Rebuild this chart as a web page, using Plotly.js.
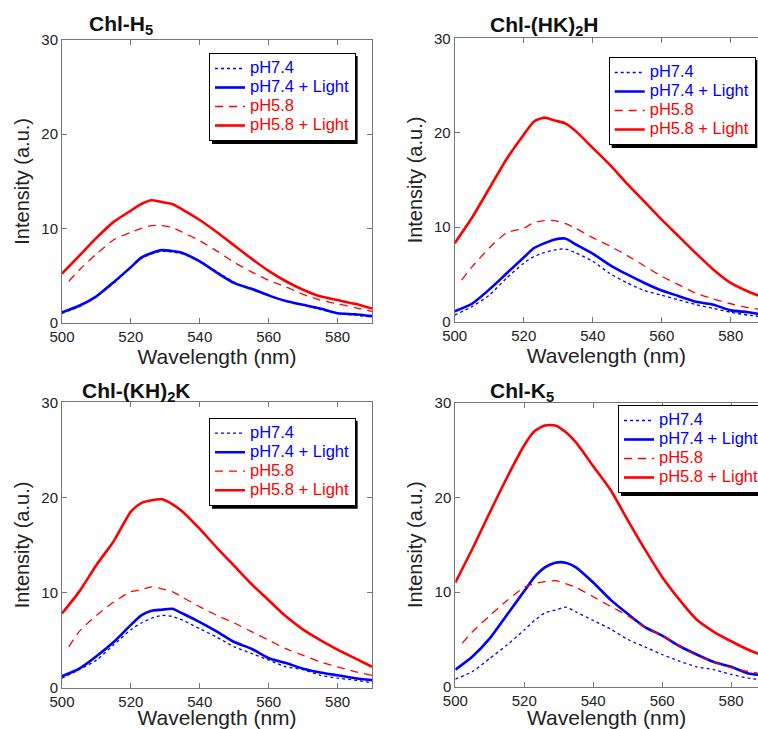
<!DOCTYPE html>
<html><head><meta charset="utf-8">
<script src="https://cdn.plot.ly/plotly-3.0.1.min.js"></script>
<style>html,body{margin:0;padding:0;background:#fff;overflow:hidden}</style>
</head><body><div id="chart" style="width:758px;height:729px"></div>
<script>
// wavelength grids (nm)
const wl     = [500,505,510,515,520,523,526,529,532,535,540,545,550,555,560,565,570,575,580,585,590];
const wlDash = [502,505,510,515,520,523,526,529,532,535,540,545,550,555,560,565,570,575,580,585,590];

const seriesNames = ['pH7.4', 'pH7.4 + Light', 'pH5.8', 'pH5.8 + Light'];
const panelTitles = ['Chl-H<sub>5</sub>', 'Chl-(HK)<sub>2</sub>H', 'Chl-(KH)<sub>2</sub>K', 'Chl-K<sub>5</sub>'];
const xTickVals = [500, 520, 540, 560, 580];
const yTickVals = [0, 10, 20, 30];

// Chl-H5
const h5_pH74   = [1.0,1.7,2.8,4.2,5.9,6.8,7.3,7.6,7.5,7.3,6.5,5.4,4.3,3.6,2.9,2.3,1.9,1.4,1.0,0.8,0.6];
const h5_pH74L  = [1.1,1.8,2.8,4.3,5.9,6.9,7.4,7.7,7.6,7.4,6.5,5.3,4.2,3.6,2.9,2.3,1.9,1.5,1.0,0.9,0.7];
const h5_pH58   = [4.4,5.6,7.3,8.8,9.6,10.0,10.3,10.3,10.1,9.6,8.7,7.6,6.4,5.4,4.5,3.8,3.0,2.4,2.0,1.6,1.2];
const h5_pH58L  = [5.2,7.1,9.0,10.7,11.9,12.6,13.0,12.8,12.6,12.0,10.9,9.6,8.2,6.8,5.5,4.4,3.5,2.8,2.4,2.0,1.5];
// Chl-(HK)2H
const hk_pH74   = [0.7,1.6,2.8,4.6,6.2,6.9,7.3,7.6,7.7,7.3,6.4,5.1,4.1,3.3,2.8,2.3,1.8,1.4,1.0,0.7,0.5];
const hk_pH74L  = [1.1,1.9,3.4,5.1,6.8,7.8,8.3,8.7,8.8,8.2,7.2,6.0,5.0,4.1,3.3,2.7,2.1,1.8,1.2,1.0,0.7];
const hk_pH58   = [4.4,5.8,7.8,9.4,9.9,10.5,10.7,10.7,10.4,9.9,8.9,8.0,7.0,5.9,4.8,3.9,3.0,2.4,1.9,1.5,1.2];
const hk_pH58L  = [8.3,11.0,14.1,17.2,19.8,21.2,21.6,21.3,21.0,20.2,18.4,16.6,14.6,12.7,10.8,9.0,7.2,5.5,4.1,3.2,2.5];
// Chl-(KH)2K
const kh_pH74   = [1.0,1.9,2.9,4.5,6.1,6.8,7.3,7.6,7.5,7.1,6.2,5.3,4.3,3.6,2.9,2.2,1.9,1.3,1.0,0.8,0.5];
const kh_pH74L  = [1.2,2.0,3.3,4.8,6.6,7.6,8.1,8.2,8.3,7.8,6.9,5.9,4.8,4.1,3.1,2.6,2.0,1.6,1.3,1.0,0.8];
const kh_pH58   = [4.3,5.9,7.6,9.0,10.1,10.3,10.6,10.4,10.1,9.5,8.5,7.6,6.8,5.9,5.0,4.1,3.4,2.7,2.2,1.7,1.3];
const kh_pH58L  = [7.8,10.1,12.9,15.4,18.5,19.4,19.7,19.8,19.3,18.5,16.7,14.7,12.8,10.9,9.2,7.5,6.1,5.0,4.0,3.1,2.2];
// Chl-K5
const k5_pH74   = [0.8,1.6,3.0,4.4,6.0,7.0,7.8,8.1,8.4,7.9,7.0,6.1,5.0,4.2,3.4,2.7,2.1,1.8,1.3,0.9,0.7];
const k5_pH74L  = [1.8,3.2,5.1,7.6,10.1,11.6,12.6,13.1,13.1,12.6,11.0,9.2,7.7,6.3,5.4,4.3,3.4,2.6,2.1,1.4,1.2];
const k5_pH58   = [4.6,5.8,7.5,9.1,10.5,10.9,11.1,11.2,10.9,10.5,9.5,8.5,7.5,6.3,5.4,4.3,3.3,2.6,2.0,1.6,1.3];
const k5_pH58L  = [11.0,14.6,18.4,22.1,25.5,27.0,27.6,27.6,26.9,25.8,23.3,20.8,17.6,14.5,11.6,9.2,7.1,5.8,4.8,3.9,3.2];

const panels = [
  [h5_pH74, h5_pH74L, h5_pH58, h5_pH58L],
  [hk_pH74, hk_pH74L, hk_pH58, hk_pH58L],
  [kh_pH74, kh_pH74L, kh_pH58, kh_pH58L],
  [k5_pH74, k5_pH74L, k5_pH58, k5_pH58L]
];

const BLUE = '#0000ff', RED = '#ff0000';
const styles = [
  {color: BLUE, width: 1.3, dash: '3px,3px', xs: wl},
  {color: BLUE, width: 2.6, dash: 'solid', xs: wl},
  {color: RED,  width: 1.3, dash: '8px,6px', xs: wlDash},
  {color: RED,  width: 2.6, dash: 'solid', xs: wl}
];

const W = 758, H = 729;
const FONT = 'Liberation Sans, Arial, Helvetica, sans-serif';
const LEG_TEXT_PX = 16.5, LEG_FONT_PX = 12;
// pixel geometry of each panel: [left, right, top, bottom, xmax]
const geo = [
  [62, 372, 40, 322.7, 590],
  [454.7, 758, 38.3, 321.7, 587.9],
  [62, 372, 402.3, 687.7, 590],
  [455.3, 758, 402.7, 686.7, 587.8]
];
const legendPos = [[209, 53], [608.7, 57], [209, 417.7], [618, 405]];
const titlePos = [[87, 25], [488, 26], [80, 391.7], [488, 391.7]];

// legend box size (mirrors Plotly's vertical legend sizing) for the drop shadow
function measure(str, px) {
  let w = 0;
  try {
    const c = document.createElement('canvas').getContext('2d');
    c.font = px + 'px "Liberation Sans", Arial, sans-serif';
    w = c.measureText(str).width;
  } catch (e) { w = 0; }
  return w > 0 ? w : 5.976 * px;
}
const maxTextW = Math.max(...seriesNames.map(n => measure(n, LEG_TEXT_PX)));
const legW = maxTextW + 5 + 40 + 2;
const legH = seriesNames.length * (Math.max(LEG_FONT_PX * 1.3, 16) + 3) + 12;

const traces = [];
const layout = {
  width: W, height: H,
  margin: {l: 0, r: 0, t: 0, b: 0, autoexpand: false},
  paper_bgcolor: '#fff', plot_bgcolor: '#fff',
  font: {family: FONT, color: '#222'},
  showlegend: true,
  annotations: [],
  shapes: []
};

panels.forEach((series, p) => {
  const sfx = p === 0 ? '' : String(p + 1);
  const legId = 'legend' + sfx;
  series.forEach((ys, s) => {
    const st = styles[s];
    traces.push({
      type: 'scatter', mode: 'lines',
      x: st.xs, y: ys,
      xaxis: 'x' + sfx, yaxis: 'y' + sfx,
      legend: legId,
      name: '<span style="color:' + st.color + ';font-size:' + LEG_TEXT_PX + 'px">' + seriesNames[s] + '</span>',
      line: {color: st.color, width: st.width, dash: st.dash, shape: 'spline', smoothing: 0.6},
      hoverinfo: 'skip'
    });
  });
  const g = geo[p];
  const right = p % 2 === 1;
  layout['xaxis' + sfx] = {
    domain: [g[0] / W, g[1] / W], range: [500, g[4]], anchor: 'y' + sfx,
    tickvals: xTickVals, ticks: 'inside', ticklen: 5, tickcolor: '#777',
    showline: true, linecolor: '#777', linewidth: 1, mirror: 'ticks',
    showgrid: false, zeroline: false, automargin: false,
    tickfont: {size: 15, color: '#222', family: FONT},
    title: {text: 'Wavelength (nm)', font: {size: 21, color: '#222', family: FONT}, standoff: 0}
  };
  layout['yaxis' + sfx] = {
    domain: [1 - g[3] / H, 1 - g[2] / H], range: [0, 30], anchor: 'x' + sfx,
    tickvals: yTickVals, ticks: 'inside', ticklen: 5, tickcolor: '#777',
    showline: true, linecolor: '#777', linewidth: 1, mirror: right ? false : 'ticks',
    showgrid: false, zeroline: false, automargin: false,
    tickfont: {size: 15, color: '#222', family: FONT},
    title: {text: 'Intensity (a.u.)', font: {size: 20, color: '#222', family: FONT}, standoff: 6}
  };
  const lp = legendPos[p];
  layout[legId] = {
    x: lp[0] / W, y: 1 - lp[1] / H, xanchor: 'left', yanchor: 'top',
    xref: 'paper', yref: 'paper',
    bgcolor: '#fff', bordercolor: '#000', borderwidth: 1,
    font: {size: LEG_FONT_PX, family: FONT}, tracegroupgap: 0, itemclick: false, itemdoubleclick: false
  };
  // drop shadow behind the legend box
  const sx0 = lp[0] + 3, sx1 = lp[0] + legW + 3, sy0 = lp[1] + 3, sy1 = lp[1] + legH + 3;
  layout.shapes.push({
    type: 'rect', xref: 'paper', yref: 'paper', layer: 'above',
    x0: sx0 / W, x1: sx1 / W, y0: 1 - sy1 / H, y1: 1 - sy0 / H,
    fillcolor: '#000', line: {width: 0}
  });
  const tp = titlePos[p];
  layout.annotations.push({
    xref: 'paper', yref: 'paper', x: tp[0] / W, y: 1 - tp[1] / H,
    xanchor: 'left', yanchor: 'middle', showarrow: false,
    text: '<b>' + panelTitles[p] + '</b>',
    font: {size: 21, color: '#111', family: FONT}
  });
});

Plotly.newPlot('chart', traces, layout, {staticPlot: true, displayModeBar: false});
</script></body></html>
